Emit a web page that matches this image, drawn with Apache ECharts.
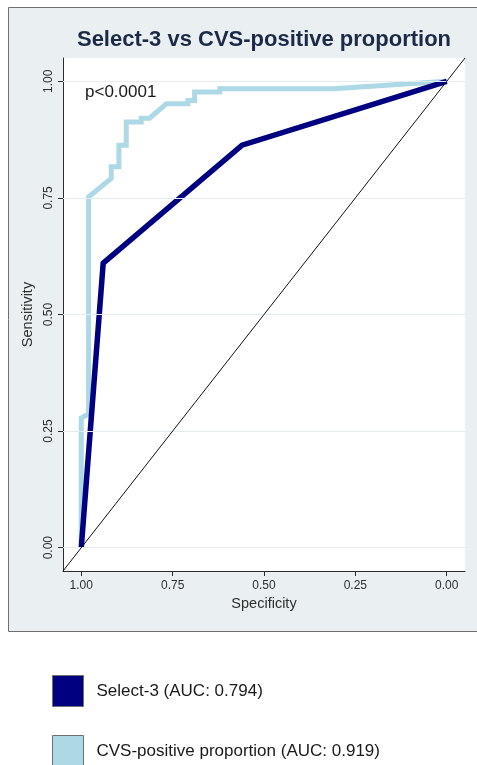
<!DOCTYPE html>
<html>
<head>
<meta charset="utf-8">
<script src="https://cdn.jsdelivr.net/npm/echarts@6/dist/echarts.min.js"></script>
<style>
  html, body { margin: 0; padding: 0; background: #ffffff; }
  #chart { width: 477px; height: 765px; }
</style>
</head>
<body>
<div id="chart"></div>
<script>
// ---- data ----
const tickValues = [0, 0.25, 0.5, 0.75, 1];
const tickLabels = ['0.00', '0.25', '0.50', '0.75', '1.00'];

const select3Name = 'Select-3 (AUC: 0.794)';
const select3Spec = [1.0, 0.94, 0.56, 0.0];
const select3Sens = [0.0, 0.61, 0.863, 1.0];

const cvsName = 'CVS-positive proportion (AUC: 0.919)';
const cvsSpec = [1.0, 1.0, 0.98, 0.98, 0.918, 0.918, 0.897, 0.897, 0.877, 0.877, 0.836, 0.836, 0.813, 0.767, 0.708, 0.708, 0.690, 0.690, 0.621, 0.621, 0.310, 0.0];
const cvsSens = [0.0, 0.278, 0.287, 0.752, 0.792, 0.817, 0.817, 0.863, 0.863, 0.913, 0.913, 0.921, 0.921, 0.952, 0.952, 0.959, 0.959, 0.977, 0.977, 0.984, 0.984, 1.0];

const refSpec = [1.05, -0.05];
const refSens = [-0.05, 1.05];

const titleText = 'Select-3 vs CVS-positive proportion';
const annotation = 'p<0.0001';

// ---- helpers ----
const zip = (xs, ys) => xs.map((x, i) => [x, ys[i]]);
const FONT = '"Liberation Sans", Arial, sans-serif';
const labelOf = v => {
  const i = tickValues.findIndex(t => Math.abs(t - v) < 1e-9);
  return i >= 0 ? tickLabels[i] : '';
};
const NAVY = '#000080';
const LBLUE = '#add8e6';

const chart = echarts.init(document.getElementById('chart'), null, { renderer: 'canvas' });

const axisCommon = {
  type: 'value',
  min: -0.05,
  max: 1.05,
  axisLine: { show: true, onZero: false, lineStyle: { color: '#2b2b2b', width: 1 } },
  axisTick: { show: true, customValues: tickValues, length: 5, lineStyle: { color: '#2b2b2b', width: 1 } },
  axisLabel: { customValues: tickValues, formatter: labelOf, color: '#2e2e2e', fontSize: 12, fontFamily: FONT, margin: 9 },
  splitLine: { show: false },
  nameLocation: 'middle',
  nameTextStyle: { color: '#2e2e2e', fontSize: 14.5, fontFamily: FONT }
};

const legendCommon = {
  orient: 'vertical', left: 52, itemWidth: 31, itemHeight: 31, padding: 0,
  icon: 'rect', selectedMode: false,
  textStyle: { fontSize: 17, color: '#1a1a1a', fontFamily: FONT, padding: [0, 0, 0, 8] }
};

chart.setOption({
  animation: false,
  backgroundColor: '#ffffff',
  graphic: [
    { type: 'rect', z: -10, silent: true,
      shape: { x: 8.5, y: 7.5, width: 480, height: 624 },
      style: { fill: '#eaf0f2', stroke: '#6f6f6f', lineWidth: 1 } },
    { type: 'text', z: 10, x: 264, y: 40,
      style: { text: titleText, font: 'bold 22px ' + FONT, fill: '#1c2a48', textAlign: 'center', textVerticalAlign: 'middle' } },
    { type: 'text', z: 10, x: 85, y: 92,
      style: { text: annotation, font: '17px ' + FONT, fill: '#1a1a1a', textAlign: 'left', textVerticalAlign: 'middle' } }
  ],
  grid: { left: 63, top: 58, width: 402, height: 513, show: true, backgroundColor: '#ffffff', borderWidth: 0, containLabel: false },
  xAxis: Object.assign({}, axisCommon, { inverse: true, name: 'Specificity', nameGap: 25 }),
  yAxis: Object.assign({}, axisCommon, {
    name: 'Sensitivity', nameGap: 24,
    axisLabel: Object.assign({}, axisCommon.axisLabel, { rotate: 90, margin: 8 })
  }),
  legend: [
    Object.assign({}, legendCommon, { top: 675,
      data: [{ name: select3Name, itemStyle: { color: NAVY, borderColor: '#6f6f6f', borderWidth: 1 } }] }),
    Object.assign({}, legendCommon, { top: 735,
      data: [{ name: cvsName, itemStyle: { color: LBLUE, borderColor: '#6f6f6f', borderWidth: 1 } }] })
  ],
  series: [
    { type: 'line', name: 'grid', data: [], z: 1, silent: true,
      markLine: { silent: true, symbol: 'none', animation: false, label: { show: false },
        lineStyle: { color: '#e3ecef', width: 1, type: 'solid' },
        data: tickValues.map(v => ({ yAxis: v })) } },
    { type: 'line', name: cvsName, data: zip(cvsSpec, cvsSens), z: 3, showSymbol: false, symbol: 'none',
      itemStyle: { color: LBLUE }, lineStyle: { color: LBLUE, width: 5, join: 'miter' } },
    { type: 'line', name: select3Name, data: zip(select3Spec, select3Sens), z: 4, showSymbol: false, symbol: 'none',
      itemStyle: { color: NAVY }, lineStyle: { color: NAVY, width: 5.5, join: 'miter' } },
    { type: 'line', name: 'reference', data: zip(refSpec, refSens), z: 5, showSymbol: false, symbol: 'none', clip: true,
      lineStyle: { color: '#111', width: 1 } }
  ]
});
</script>
</body>
</html>
